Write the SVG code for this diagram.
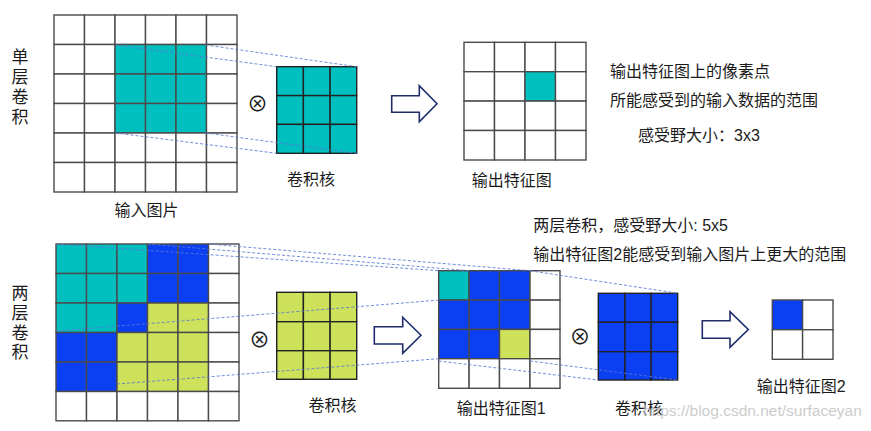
<svg xmlns="http://www.w3.org/2000/svg" width="871" height="431" viewBox="0 0 871 431">
<style>
.c{stroke:#4a4a4a;stroke-width:1.4}
.k{stroke:#222;stroke-width:1.4}
.w{fill:#fff}
.t{fill:#00bfbf}
.b{fill:#0b3ff2}
.g{fill:#cde25a}
.lbl{font-family:"Liberation Sans","Noto Sans CJK SC",sans-serif;font-size:16px;fill:#1a1a1a}
.op{font-family:"Noto Sans CJK SC","DejaVu Sans",sans-serif;font-size:21px;fill:#1a1a1a}
.arr{fill:#fff;stroke:#1f2d6b;stroke-width:1.6;stroke-linejoin:miter}
.dash{fill:none;stroke:#5b7bd5;stroke-width:1;stroke-dasharray:3 2;opacity:0.85}
</style>
<rect width="871" height="431" fill="#fff"/>

<g id="label-single" class="lbl" text-anchor="middle" style="font-size:17px">
<text x="20" y="63">单</text><text x="20" y="83">层</text><text x="20" y="103">卷</text><text x="20" y="123">积</text>
</g>

<g id="input-top">
<g class="c">
<rect class="w" x="54" y="15" width="30.5" height="29.5"/><rect class="w" x="84.5" y="15" width="30.5" height="29.5"/><rect class="w" x="115" y="15" width="30.5" height="29.5"/><rect class="w" x="145.5" y="15" width="30.5" height="29.5"/><rect class="w" x="176" y="15" width="30.5" height="29.5"/><rect class="w" x="206.5" y="15" width="30.5" height="29.5"/>
<rect class="w" x="54" y="44.5" width="30.5" height="29.5"/><rect class="w" x="84.5" y="44.5" width="30.5" height="29.5"/><rect class="t" x="115" y="44.5" width="30.5" height="29.5"/><rect class="t" x="145.5" y="44.5" width="30.5" height="29.5"/><rect class="t" x="176" y="44.5" width="30.5" height="29.5"/><rect class="w" x="206.5" y="44.5" width="30.5" height="29.5"/>
<rect class="w" x="54" y="74" width="30.5" height="29.5"/><rect class="w" x="84.5" y="74" width="30.5" height="29.5"/><rect class="t" x="115" y="74" width="30.5" height="29.5"/><rect class="t" x="145.5" y="74" width="30.5" height="29.5"/><rect class="t" x="176" y="74" width="30.5" height="29.5"/><rect class="w" x="206.5" y="74" width="30.5" height="29.5"/>
<rect class="w" x="54" y="103.5" width="30.5" height="29.5"/><rect class="w" x="84.5" y="103.5" width="30.5" height="29.5"/><rect class="t" x="115" y="103.5" width="30.5" height="29.5"/><rect class="t" x="145.5" y="103.5" width="30.5" height="29.5"/><rect class="t" x="176" y="103.5" width="30.5" height="29.5"/><rect class="w" x="206.5" y="103.5" width="30.5" height="29.5"/>
<rect class="w" x="54" y="133" width="30.5" height="29.5"/><rect class="w" x="84.5" y="133" width="30.5" height="29.5"/><rect class="w" x="115" y="133" width="30.5" height="29.5"/><rect class="w" x="145.5" y="133" width="30.5" height="29.5"/><rect class="w" x="176" y="133" width="30.5" height="29.5"/><rect class="w" x="206.5" y="133" width="30.5" height="29.5"/>
<rect class="w" x="54" y="162.5" width="30.5" height="29.5"/><rect class="w" x="84.5" y="162.5" width="30.5" height="29.5"/><rect class="w" x="115" y="162.5" width="30.5" height="29.5"/><rect class="w" x="145.5" y="162.5" width="30.5" height="29.5"/><rect class="w" x="176" y="162.5" width="30.5" height="29.5"/><rect class="w" x="206.5" y="162.5" width="30.5" height="29.5"/>
</g>
<text class="lbl" x="146.5" y="216" text-anchor="middle">输入图片</text>
</g>

<g id="op-top"><text class="op" x="257.5" y="102" text-anchor="middle" dominant-baseline="central">⊗</text></g>

<g id="kernel-top">
<g class="k t">
<rect x="276.7" y="66.7" width="26.7" height="28.9"/><rect x="303.4" y="66.7" width="26.7" height="28.9"/><rect x="330.1" y="66.7" width="26.6" height="28.9"/>
<rect x="276.7" y="95.6" width="26.7" height="28.8"/><rect x="303.4" y="95.6" width="26.7" height="28.8"/><rect x="330.1" y="95.6" width="26.6" height="28.8"/>
<rect x="276.7" y="124.4" width="26.7" height="28.9"/><rect x="303.4" y="124.4" width="26.7" height="28.9"/><rect x="330.1" y="124.4" width="26.6" height="28.9"/>
</g>
<text class="lbl" x="311" y="185" text-anchor="middle">卷积核</text>
</g>

<g id="arrow-top"><polygon class="arr" points="391.7,95.7 419.3,95.7 419.3,85.7 437,103.7 419.3,121.7 419.3,112.3 391.7,112.3"/></g>

<g id="output-top">
<g class="c">
<rect class="w" x="464" y="42.3" width="30.5" height="29.4"/><rect class="w" x="494.5" y="42.3" width="30.5" height="29.4"/><rect class="w" x="525" y="42.3" width="30.5" height="29.4"/><rect class="w" x="555.5" y="42.3" width="30.5" height="29.4"/>
<rect class="w" x="464" y="71.7" width="30.5" height="29.4"/><rect class="w" x="494.5" y="71.7" width="30.5" height="29.4"/><rect class="t" x="525" y="71.7" width="30.5" height="29.4"/><rect class="w" x="555.5" y="71.7" width="30.5" height="29.4"/>
<rect class="w" x="464" y="101.1" width="30.5" height="29.4"/><rect class="w" x="494.5" y="101.1" width="30.5" height="29.4"/><rect class="w" x="525" y="101.1" width="30.5" height="29.4"/><rect class="w" x="555.5" y="101.1" width="30.5" height="29.4"/>
<rect class="w" x="464" y="130.5" width="30.5" height="29.5"/><rect class="w" x="494.5" y="130.5" width="30.5" height="29.5"/><rect class="w" x="525" y="130.5" width="30.5" height="29.5"/><rect class="w" x="555.5" y="130.5" width="30.5" height="29.5"/>
</g>
<text class="lbl" x="511.7" y="186" text-anchor="middle">输出特征图</text>
</g>

<g id="note-top" class="lbl">
<text x="610" y="76.5">输出特征图上的像素点</text>
<text x="610" y="106">所能感受到的输入数据的范围</text>
<text x="638" y="141">感受野大小：3x3</text>
</g>

<g id="label-double" class="lbl" text-anchor="middle" style="font-size:17px">
<text x="20" y="298.5">两</text><text x="20" y="319">层</text><text x="20" y="338.5">卷</text><text x="20" y="358">积</text>
</g>

<g id="input-bottom">
<g class="c">
<rect class="t" x="56" y="244" width="30.5" height="29.5"/><rect class="t" x="86.5" y="244" width="30.5" height="29.5"/><rect class="t" x="117" y="244" width="30.5" height="29.5"/><rect class="b" x="147.5" y="244" width="30.5" height="29.5"/><rect class="b" x="178" y="244" width="30.5" height="29.5"/><rect class="w" x="208.5" y="244" width="30.5" height="29.5"/>
<rect class="t" x="56" y="273.5" width="30.5" height="29.5"/><rect class="t" x="86.5" y="273.5" width="30.5" height="29.5"/><rect class="t" x="117" y="273.5" width="30.5" height="29.5"/><rect class="b" x="147.5" y="273.5" width="30.5" height="29.5"/><rect class="b" x="178" y="273.5" width="30.5" height="29.5"/><rect class="w" x="208.5" y="273.5" width="30.5" height="29.5"/>
<rect class="t" x="56" y="303" width="30.5" height="29.5"/><rect class="t" x="86.5" y="303" width="30.5" height="29.5"/><rect class="b" x="117" y="303" width="30.5" height="29.5"/><rect class="g" x="147.5" y="303" width="30.5" height="29.5"/><rect class="g" x="178" y="303" width="30.5" height="29.5"/><rect class="w" x="208.5" y="303" width="30.5" height="29.5"/>
<rect class="b" x="56" y="332.5" width="30.5" height="29.5"/><rect class="b" x="86.5" y="332.5" width="30.5" height="29.5"/><rect class="g" x="117" y="332.5" width="30.5" height="29.5"/><rect class="g" x="147.5" y="332.5" width="30.5" height="29.5"/><rect class="g" x="178" y="332.5" width="30.5" height="29.5"/><rect class="w" x="208.5" y="332.5" width="30.5" height="29.5"/>
<rect class="b" x="56" y="362" width="30.5" height="29.5"/><rect class="b" x="86.5" y="362" width="30.5" height="29.5"/><rect class="g" x="117" y="362" width="30.5" height="29.5"/><rect class="g" x="147.5" y="362" width="30.5" height="29.5"/><rect class="g" x="178" y="362" width="30.5" height="29.5"/><rect class="w" x="208.5" y="362" width="30.5" height="29.5"/>
<rect class="w" x="56" y="391.5" width="30.5" height="29.3"/><rect class="w" x="86.5" y="391.5" width="30.5" height="29.3"/><rect class="w" x="117" y="391.5" width="30.5" height="29.3"/><rect class="w" x="147.5" y="391.5" width="30.5" height="29.3"/><rect class="w" x="178" y="391.5" width="30.5" height="29.3"/><rect class="w" x="208.5" y="391.5" width="30.5" height="29.3"/>
</g>
</g>

<g id="op-bottom1"><text class="op" x="259.5" y="337.5" text-anchor="middle" dominant-baseline="central">⊗</text></g>

<g id="kernel-green">
<g class="k g">
<rect x="276.7" y="292.3" width="26.7" height="29.4"/><rect x="303.4" y="292.3" width="26.7" height="29.4"/><rect x="330.1" y="292.3" width="26.6" height="29.4"/>
<rect x="276.7" y="321.7" width="26.7" height="29"/><rect x="303.4" y="321.7" width="26.7" height="29"/><rect x="330.1" y="321.7" width="26.6" height="29"/>
<rect x="276.7" y="350.7" width="26.7" height="28.6"/><rect x="303.4" y="350.7" width="26.7" height="28.6"/><rect x="330.1" y="350.7" width="26.6" height="28.6"/>
</g>
<text class="lbl" x="332.5" y="411" text-anchor="middle">卷积核</text>
</g>

<g id="arrow-bottom1"><polygon class="arr" points="374.3,326.7 402.7,326.7 402.7,317.3 421,335.3 402.7,353.3 402.7,344 374.3,344"/></g>

<g id="output1">
<g class="c">
<rect class="t" x="438.7" y="270.7" width="30.4" height="29.4"/><rect class="b" x="469.1" y="270.7" width="30.4" height="29.4"/><rect class="b" x="499.5" y="270.7" width="30.5" height="29.4"/><rect class="w" x="530" y="270.7" width="30" height="29.4"/>
<rect class="b" x="438.7" y="300.1" width="30.4" height="29.3"/><rect class="b" x="469.1" y="300.1" width="30.4" height="29.3"/><rect class="b" x="499.5" y="300.1" width="30.5" height="29.3"/><rect class="w" x="530" y="300.1" width="30" height="29.3"/>
<rect class="b" x="438.7" y="329.4" width="30.4" height="29.3"/><rect class="b" x="469.1" y="329.4" width="30.4" height="29.3"/><rect class="g" x="499.5" y="329.4" width="30.5" height="29.3"/><rect class="w" x="530" y="329.4" width="30" height="29.3"/>
<rect class="w" x="438.7" y="358.7" width="30.4" height="29.6"/><rect class="w" x="469.1" y="358.7" width="30.4" height="29.6"/><rect class="w" x="499.5" y="358.7" width="30.5" height="29.6"/><rect class="w" x="530" y="358.7" width="30" height="29.6"/>
</g>
<text class="lbl" x="456.7" y="414">输出特征图1</text>
</g>

<g id="op-bottom2"><text class="op" x="580" y="335" text-anchor="middle" dominant-baseline="central">⊗</text></g>

<g id="kernel-blue">
<g class="k b">
<rect x="598.3" y="293.3" width="26.7" height="29"/><rect x="625" y="293.3" width="26.2" height="29"/><rect x="651.2" y="293.3" width="26.5" height="29"/>
<rect x="598.3" y="322.3" width="26.7" height="29.4"/><rect x="625" y="322.3" width="26.2" height="29.4"/><rect x="651.2" y="322.3" width="26.5" height="29.4"/>
<rect x="598.3" y="351.7" width="26.7" height="28.3"/><rect x="625" y="351.7" width="26.2" height="28.3"/><rect x="651.2" y="351.7" width="26.5" height="28.3"/>
</g>
<text class="lbl" x="639" y="414" text-anchor="middle">卷积核</text>
</g>

<g id="arrow-bottom2"><polygon class="arr" points="702.3,320.7 730,320.7 730,311.7 748.3,329.5 730,347.3 730,338.3 702.3,338.3"/></g>

<g id="output2">
<g class="c">
<rect class="b" x="772.3" y="300" width="30.3" height="29.7"/><rect class="w" x="802.6" y="300" width="30.4" height="29.7"/>
<rect class="w" x="772.3" y="329.7" width="30.3" height="29.6"/><rect class="w" x="802.6" y="329.7" width="30.4" height="29.6"/>
</g>
<text class="lbl" x="756.7" y="391.5">输出特征图2</text>
</g>

<g id="note-bottom" class="lbl">
<text x="533.3" y="231">两层卷积，感受野大小: 5x5</text>
<text x="533.3" y="260">输出特征图2能感受到输入图片上更大的范围</text>
</g>

<g id="connectors" class="dash">
<line x1="115.7" y1="45" x2="276.7" y2="66.7"/>
<line x1="205.7" y1="45" x2="356.7" y2="66.7"/>
<line x1="115.7" y1="133" x2="276.7" y2="153.3"/>
<line x1="205.7" y1="133" x2="356.7" y2="153.3"/>
<line x1="56" y1="244" x2="438.7" y2="270.7"/>
<line x1="147.5" y1="244" x2="469.1" y2="270.7"/>
<line x1="208.5" y1="244" x2="530" y2="270.7"/>
<line x1="57" y1="331" x2="438.7" y2="300.1"/>
<line x1="117" y1="384" x2="438.7" y2="358.7"/>
<line x1="530" y1="270.7" x2="677.7" y2="293.3"/>
<line x1="438.7" y1="361" x2="598.3" y2="380"/>
<line x1="530" y1="361" x2="677.7" y2="380"/>
</g>

<text id="watermark" x="643" y="416" style="font-family:'Liberation Sans',sans-serif;font-size:15.5px;fill:#c4c4c4;opacity:0.85">https://blog.csdn.net/surfaceyan</text>
</svg>
